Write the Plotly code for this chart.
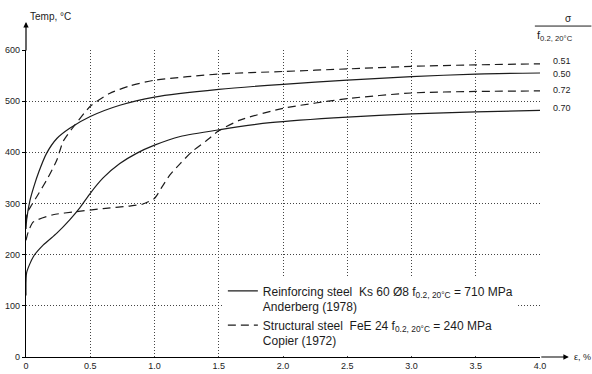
import plotly.graph_objects as go

# ---- data ----
# Reinforcing steel Ks 60 Ø8 (Anderberg 1978), stress ratio 0.50
x_r050 = [0, 0.005, 0.03, 0.06, 0.1, 0.16, 0.24, 0.34, 0.5, 0.73, 1.0, 1.5, 2.0, 2.5, 3.0, 3.5, 4.0]
y_r050 = [250, 268, 305, 332, 362, 398, 427, 447, 470, 492, 508, 523, 533, 541, 548, 553, 555]
# Reinforcing steel, stress ratio 0.70
x_r070 = [0, 0.005, 0.057, 0.135, 0.24, 0.34, 0.42, 0.5, 0.6, 0.73, 0.86, 1.0, 1.2, 1.5, 1.9, 2.5, 3.0, 3.5, 4.0]
y_r070 = [120, 165, 196, 219, 242, 268, 292, 320, 350, 378, 398, 414, 431, 444, 458, 469, 475, 479, 482]
# Structural steel FeE 24 (Copier 1972), stress ratio 0.51
x_s051 = [0, 0.01, 0.044, 0.1, 0.17, 0.24, 0.29, 0.37, 0.5, 0.65, 0.81, 1.0, 1.5, 2.0, 2.5, 3.0, 3.5, 4.0]
y_s051 = [262, 282, 297, 320, 350, 385, 422, 450, 490, 515, 530, 541, 553, 558, 563, 568, 571, 573]
# Structural steel, stress ratio 0.72
x_s072 = [0, 0.018, 0.057, 0.21, 0.39, 0.6, 0.8, 0.91, 1.0, 1.06, 1.12, 1.2, 1.29, 1.41, 1.5, 1.665, 2.0, 2.5, 3.0, 3.5, 4.0]
y_s072 = [228, 245, 264, 278, 284, 290, 295, 299, 310, 333, 356, 378, 401, 424, 442, 463, 486, 505, 516, 519, 520]

ratio_labels = ["0.51", "0.50", "0.72", "0.70"]
x_ticks = [0, 0.5, 1.0, 1.5, 2.0, 2.5, 3.0, 3.5, 4.0]
x_ticktext = ["0", "0.5", "1.0", "1.5", "2.0", "2.5", "3.0", "3.5", "4.0"]
y_ticks = [0, 100, 200, 300, 400, 500, 600]

name_reinf = "Reinforcing steel  Ks 60 Ø8 f<sub>0.2, 20°C</sub> = 710 MPa<br>Anderberg (1978)"
name_struct = "Structural steel  FeE 24 f<sub>0.2, 20°C</sub> = 240 MPa<br>Copier (1972)"

FONT = "Liberation Sans, Arial, sans-serif"
INK = "#1c1c1c"

fig = go.Figure()
common_line = dict(mode="lines", line_shape="spline")
fig.add_trace(go.Scatter(x=x_r050, y=y_r050, name=name_reinf, line=dict(color=INK, width=1.2, smoothing=0.6),
                         legendgroup="r", **common_line))
fig.add_trace(go.Scatter(x=x_r070, y=y_r070, name=name_reinf, showlegend=False,
                         line=dict(color=INK, width=1.2, smoothing=0.6), legendgroup="r", **common_line))
fig.add_trace(go.Scatter(x=x_s051, y=y_s051, name=name_struct,
                         line=dict(color=INK, width=1.2, dash="8px,5px", smoothing=0.6), legendgroup="s", **common_line))
fig.add_trace(go.Scatter(x=x_s072, y=y_s072, name=name_struct, showlegend=False,
                         line=dict(color=INK, width=1.2, dash="8px,5px", smoothing=0.6), legendgroup="s", **common_line))

axis_common = dict(showgrid=True, gridcolor="#444444", griddash="1px,2px", gridwidth=1,
                   zeroline=False, showline=True, linecolor="black", linewidth=1.3, automargin=False,
                   tickfont=dict(family=FONT, size=9, color=INK), fixedrange=True)

fig.update_layout(
    width=592, height=374,
    margin=dict(l=26, r=52, t=50, b=17, autoexpand=False),
    plot_bgcolor="white", paper_bgcolor="white",
    font=dict(family=FONT, color=INK),
    xaxis=dict(range=[0, 4], tickvals=x_ticks, ticktext=x_ticktext, ticks="", **axis_common),
    yaxis=dict(range=[0, 600], tickvals=y_ticks, ticks="outside", ticklen=3, tickcolor="black", **axis_common),
    legend=dict(x=0.383, y=0.262, xanchor="left", yanchor="top", bgcolor="white",
                font=dict(family=FONT, size=12, color=INK), valign="top",
                tracegroupgap=0, itemwidth=30),
    showlegend=True,
)

# right-hand ratio labels, attached to end of each curve
ends = [(x_s051[-1], y_s051[-1], 3), (x_r050[-1], y_r050[-1], -1),
        (x_s072[-1], y_s072[-1], 1), (x_r070[-1], y_r070[-1], 2)]
for lab, (xe, ye, ys) in zip(ratio_labels, ends):
    fig.add_annotation(x=xe, y=ye, xref="x", yref="y", text=lab, showarrow=False,
                       xanchor="left", yanchor="middle", xshift=11, yshift=ys,
                       font=dict(family=FONT, size=9, color=INK))

# axis arrows
fig.add_annotation(x=0, y=1.091, xref="x", yref="paper", ax=0, ay=30, text="",
                   showarrow=True, arrowhead=2, arrowsize=0.9, arrowwidth=1.2, arrowcolor="black")
fig.add_annotation(x=1.056, y=0, xref="paper", yref="y", ax=-29, ay=0, text="",
                   showarrow=True, arrowhead=2, arrowsize=0.9, arrowwidth=1.2, arrowcolor="black")

# axis titles
fig.add_annotation(x=0.004, y=1.11, xref="paper", yref="paper", text="Temp, °C", showarrow=False,
                   xanchor="left", yanchor="middle", font=dict(family=FONT, size=10, color=INK))
fig.add_annotation(x=1.062, y=0, xref="paper", yref="y", text="ε, %", showarrow=False,
                   xanchor="left", yanchor="middle", font=dict(family=FONT, size=9, color=INK))

# stress ratio fraction header
fig.add_annotation(x=1.055, y=1.078, xref="paper", yref="paper", text="σ", showarrow=False,
                   xanchor="center", yanchor="bottom", font=dict(family=FONT, size=10, color=INK))
fig.add_shape(type="line", xref="paper", yref="paper", x0=0.99, x1=1.1, y0=1.078, y1=1.078,
              line=dict(color=INK, width=1))
fig.add_annotation(x=0.99, y=1.076, xref="paper", yref="paper", text="f<sub>0.2, 20°C</sub>",
                   showarrow=False, xanchor="left", yanchor="top",
                   font=dict(family=FONT, size=11, color=INK))

fig.write_html("out.html", config={"displayModeBar": False},
               post_script="document.body.style.margin='0';")
